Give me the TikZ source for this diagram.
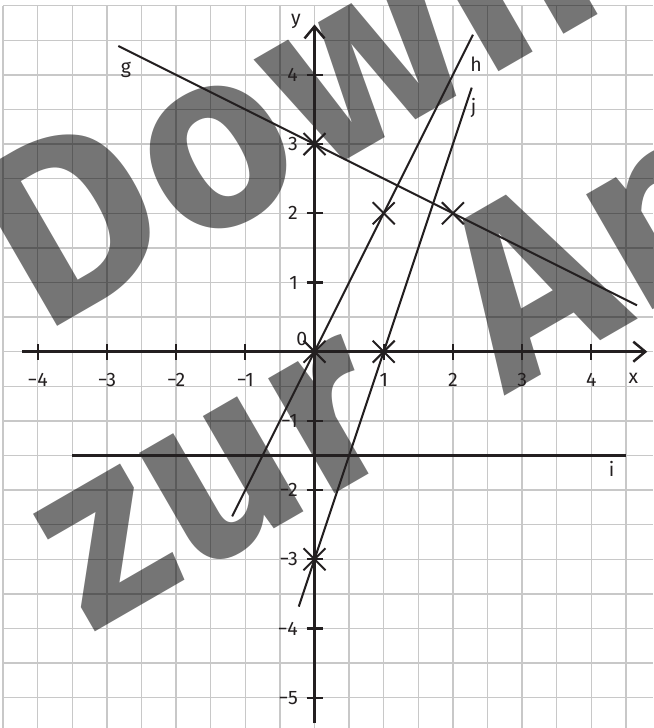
\documentclass[tikz,border=0pt]{standalone}
\usepackage{fontspec}
\setmainfont{Fira Sans}
\usetikzlibrary{shapes.misc,calc}
\definecolor{ink}{HTML}{231F20}
\definecolor{gridgray}{HTML}{C8C8C8}
\begin{document}
\begin{tikzpicture}[x=69.2pt,y=69.2pt,
  gridline/.style={draw=gridgray,line width=1.3pt},
  axisline/.style={draw=ink,line width=2.5pt},
  graphline/.style={draw=ink,line width=2pt},
  tickmark/.style={draw=ink,line width=2.2pt},
  lab/.style={font=\fontsize{19.5}{21}\selectfont,text=ink,inner sep=0pt},
  xmark/.style={cross out,draw=ink,line width=2pt,minimum size=20pt,inner sep=0pt},
  wm/.style={rotate=30,font=\bfseries\fontsize{250}{300}\selectfont\addfontfeatures{LetterSpace=2},text=black,text opacity=0.54,inner sep=0pt}]
\useasboundingbox (-4.545,-5.438) rectangle (4.892,5.082);
\clip (-4.545,-5.438) rectangle (4.892,5.082);
% grid
\draw[gridline,step=0.5] (-4.5,-5.438) grid (4.892,5.0);
% watermark
\node[wm,anchor=base west] (wm1) at (-3.92,0.24) {Download};
\node[wm,anchor=base west] (wm2) at (-3.215,-4.08) {zur\hspace{0.2em} Ansicht};
% axes
\coordinate (xs) at (-4.22,0);
\coordinate (xe) at (4.78,0);
\coordinate (ys) at (0,-5.37);
\coordinate (ye) at (0,4.70);
\draw[axisline] (xs) -- (xe);
\draw[axisline] (ys) -- (ye);
\draw[axisline,line join=miter] ($(xe)+(-12pt,10pt)$) -- (xe) -- ($(xe)+(-12pt,-10pt)$);
\draw[axisline,line join=miter] ($(ye)+(-10pt,-12pt)$) -- (ye) -- ($(ye)+(10pt,-12pt)$);
% ticks and labels
\foreach \v/\t in {-4/{−4},-3/{−3},-2/{−2},-1/{−1},1/1,2/2,3/3,4/4}{
  \draw[tickmark] (\v,0) ++(0,-8pt) -- ++(0,16pt);
  \node[lab] (xl\v) at (\v,-0.409) {\t};
}
\foreach \v/\t in {-5/{−5},-4/{−4},-3/{−3},-2/{−2},-1/{−1},1/1,2/2,3/3,4/4}{
  \draw[tickmark] (0,\v) ++(-8pt,0) -- ++(16pt,0);
  \node[lab,anchor=east] (yl\v) at (-0.238,\v) {\t};
}
\node[lab] (zero) at (-0.185,0.18) {0};
\node[lab,anchor=base] (xlab) at (4.607,-0.457) {x};
\node[lab,anchor=base] (ylab) at (-0.267,4.725) {y};
% graphs
\coordinate (g1) at (-2.835,4.4175);
\coordinate (g2) at (4.66,0.67);
\coordinate (h1) at (-1.19,-2.38);
\coordinate (h2) at (2.29,4.58);
\coordinate (j1) at (-0.228,-3.684);
\coordinate (j2) at (2.272,3.816);
\coordinate (i1) at (-3.5,-1.5);
\coordinate (i2) at (4.5,-1.5);
\draw[graphline] (g1) -- (g2);
\draw[graphline] (h1) -- (h2);
\draw[graphline] (j1) -- (j2);
\draw[graphline,line width=2.4pt] (i1) -- (i2);
\node[lab,anchor=base] (gl) at (-2.724,4.027) {g};
\node[lab,anchor=base] (hl) at (2.334,4.046) {h};
\node[lab,anchor=base] (jl) at (2.30,3.435) {j};
\node[lab,anchor=base] (il) at (4.295,-1.806) {i};
% crosses
\node[xmark] (p1) at (0,3) {};
\node[xmark] (p2) at (1,2) {};
\node[xmark] (p3) at (2,2) {};
\node[xmark] (p4) at (0,0) {};
\node[xmark] (p5) at (1,0) {};
\node[xmark] (p6) at (0,-3) {};
\end{tikzpicture}
\end{document}
